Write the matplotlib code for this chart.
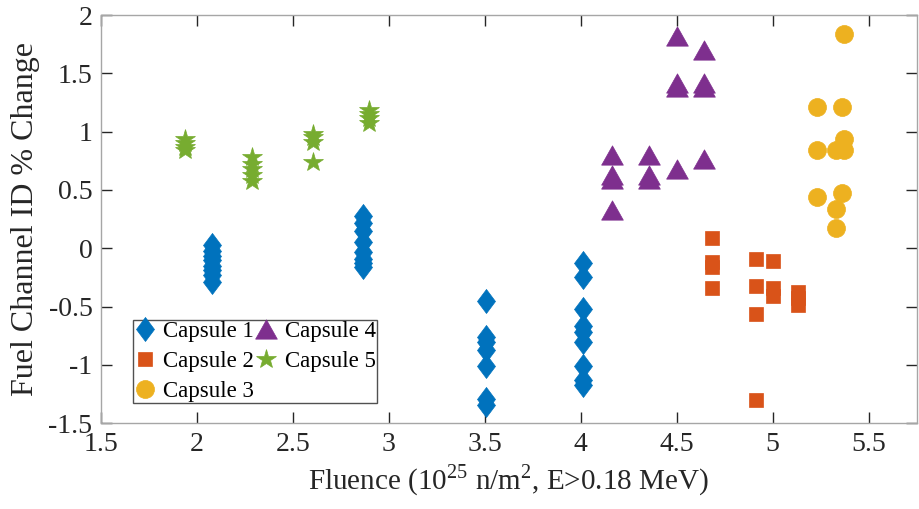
import matplotlib
matplotlib.use("Agg")
import matplotlib.pyplot as plt
import numpy as np

# ---- data ----
c1_x = [2.078]*8 + [2.868]*8 + [3.505]*7 + [4.013]*9
c1_y = [0.03, -0.02, -0.07, -0.10, -0.15, -0.19, -0.23, -0.29,
        0.28, 0.22, 0.15, 0.05, -0.03, -0.09, -0.13, -0.16,
        -0.45, -0.76, -0.80, -0.87, -1.01, -1.29, -1.34,
        -0.13, -0.25, -0.52, -0.67, -0.72, -0.80, -1.01, -1.13, -1.17]

c2_x = [4.684]*4 + [4.913]*4 + [5.002]*3 + [5.132]*3
c2_y = [0.086, -0.115, -0.163, -0.338,
        -0.089, -0.323, -0.563, -1.30,
        -0.112, -0.343, -0.409,
        -0.372, -0.43, -0.486]

c3_x = [5.371, 5.231, 5.361, 5.371, 5.231, 5.330, 5.371, 5.231, 5.361, 5.330, 5.330]
c3_y = [1.838, 1.209, 1.209, 0.937, 0.840, 0.840, 0.840, 0.440, 0.477, 0.334, 0.177]

c4_x = [4.503, 4.642, 4.503, 4.503, 4.642, 4.642,
        4.165, 4.165, 4.165, 4.165, 4.354, 4.354, 4.354, 4.503, 4.642]
c4_y = [1.82, 1.70, 1.415, 1.385, 1.415, 1.385,
        0.80, 0.628, 0.592, 0.328, 0.80, 0.628, 0.592, 0.677, 0.763]

c5_x = [1.939]*4 + [2.290]*5 + [2.607]*4 + [2.899]*4
c5_y = [0.94, 0.90, 0.87, 0.84,
        0.78, 0.72, 0.68, 0.63, 0.58,
        0.98, 0.95, 0.91, 0.74,
        1.19, 1.15, 1.12, 1.07]

labels = ["Capsule 1", "Capsule 2", "Capsule 3", "Capsule 4", "Capsule 5"]
colors = ["#0072BD", "#D95319", "#EDB120", "#7E2F8E", "#77AC30"]

xticks = [1.5, 2, 2.5, 3, 3.5, 4, 4.5, 5, 5.5]
yticks = [-1.5, -1, -0.5, 0, 0.5, 1, 1.5, 2]

# ---- style ----
plt.rcParams['font.family'] = ['Liberation Serif', 'DejaVu Serif']
plt.rcParams['mathtext.fontset'] = 'custom'
plt.rcParams['mathtext.rm'] = 'Liberation Serif'

fig = plt.figure(figsize=(9.2, 5.09), dpi=100)
ax = fig.add_axes([0.1095, 0.1684, 0.8869, 0.8021])

diamond = [(0, 1), (0.75, 0), (0, -1), (-0.75, 0), (0, 1)]
tri = [(-1, -0.89), (1, -0.89), (0, 0.89), (-1, -0.89)]

px = 72 / 100.0
series = [
    (c1_x, c1_y, diamond, 24 * px),
    (c2_x, c2_y, 's', 14.3 * px),
    (c3_x, c3_y, 'o', 18 * px),
    (c4_x, c4_y, tri, 21.7 * px),
    (c5_x, c5_y, '*', 20.3 * px),
]
handles = []
for (xs, ys, m, ms), col, lab in zip(series, colors, labels):
    h, = ax.plot(xs, ys, linestyle='none', marker=m, markersize=ms,
                 markerfacecolor=col, markeredgecolor=col, markeredgewidth=0.5,
                 label=lab)
    handles.append(h)

ax.set_xlim(1.5, 5.75)
ax.set_ylim(-1.5, 2)
ax.set_xticks(xticks)
ax.set_xticklabels([f"{t:g}" for t in xticks])
ax.set_yticks(yticks)
ax.set_yticklabels([f"{t:g}" for t in yticks])

for s in ax.spines.values():
    s.set_color('#a6a6a6')
    s.set_linewidth(1.0)
ax.tick_params(direction='in', length=8, width=1, colors='#262626',
               labelsize=20, top=True, right=True, pad=6)
for lab in ax.get_xticklabels() + ax.get_yticklabels():
    lab.set_color('#262626')

ax.set_xlabel(r"Fluence (10$^{25}$ n/m$^{2}$, E>0.18 MeV)", fontsize=21, color='#262626', labelpad=4)
ax.set_ylabel("Fuel Channel ID % Change", fontsize=23, color='#262626', labelpad=6)

leg = ax.legend(handles=handles, ncol=2, loc='lower left',
                bbox_to_anchor=(0.0396, 0.0497), borderaxespad=0,
                fontsize=16.5, frameon=True, fancybox=False,
                handlelength=0.9, handletextpad=0.35, columnspacing=0.1,
                labelspacing=0.38, borderpad=0.05, markerscale=1.0)
leg.get_frame().set_edgecolor('#262626')
leg.get_frame().set_linewidth(1.0)
for t in leg.get_texts():
    t.set_color('black')

fig.savefig("out.png", dpi=100)
